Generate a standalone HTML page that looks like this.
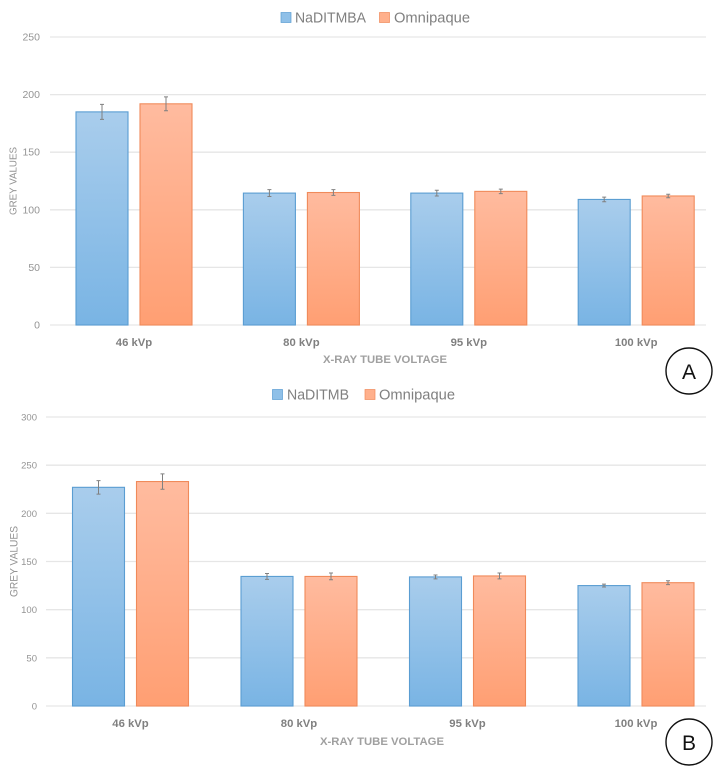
<!DOCTYPE html>
<html>
<head>
<meta charset="utf-8">
<style>
html,body{margin:0;padding:0;background:#fff;}
body{width:719px;height:770px;overflow:hidden;}
svg{display:block;font-family:"Liberation Sans",sans-serif;filter:blur(0.35px);}
</style>
</head>
<body>
<svg id="chart" width="719" height="770" viewBox="0 0 719 770" xmlns="http://www.w3.org/2000/svg">
<defs>
<linearGradient id="blueFill" x1="0" y1="0" x2="0" y2="1"><stop offset="0" stop-color="#a9cdec"/><stop offset="1" stop-color="#79b4e4"/></linearGradient>
<linearGradient id="orangeFill" x1="0" y1="0" x2="0" y2="1"><stop offset="0" stop-color="#ffbb9f"/><stop offset="1" stop-color="#ff9f73"/></linearGradient>
</defs>
</svg>
<script>
const categories = ['46 kVp', '80 kVp', '95 kVp', '100 kVp'];
const ticksA = [0, 50, 100, 150, 200, 250];
const naditmbaValues = [185, 114.5, 114.5, 109];
const naditmbaErrors = [6.5, 3, 2.5, 2];
const omnipaqueAValues = [192, 115, 116, 112];
const omnipaqueAErrors = [6, 2.5, 2, 1.5];
const ticksB = [0, 50, 100, 150, 200, 250, 300];
const naditmbValues = [227, 134.5, 134, 125];
const naditmbErrors = [7, 3, 2, 1.5];
const omnipaqueBValues = [233, 134.5, 135, 128];
const omnipaqueBErrors = [8, 3.5, 3, 2];

const svg = document.getElementById('chart');
const NS = 'http://www.w3.org/2000/svg';
function make(tag, attrs, text) {
  const el = document.createElementNS(NS, tag);
  for (const k in attrs) el.setAttribute(k, attrs[k]);
  if (text !== undefined) el.textContent = text;
  svg.appendChild(el);
  return el;
}
function drawPanel(p) {
  const yScale = v => p.y0 - (v / p.yMax) * (p.y0 - p.yTop);
  const xCenter = i => p.x0Center + i * p.groupStep;
  p.ticks.forEach(t => {
    const line = make('line', {x1: p.left, x2: 706, y1: yScale(t), y2: yScale(t), stroke: '#e6e6e6', 'stroke-width': 1.3});
    
    
    const label = make('text', {x: p.tickRight, y: yScale(t) + 3.5, 'text-anchor': 'end', 'font-size': p.tickSize, fill: '#949494'}, t);
    
    
  });
  p.series.forEach((s, si) => {
    s.values.forEach((v, i) => {
      const x = xCenter(i) + (si === 0 ? -58 : 6);
      const y = yScale(v);
      const bar = make('rect', {x: x, y: y, width: 52, height: p.y0 - y, fill: 'url(#' + s.fill + ')', stroke: s.stroke, 'stroke-width': 1.1});
      
      
      const cx = x + 26;
      const e = s.errors[i];
      const top = yScale(v + e), bot = yScale(v - e);
      const err = make('path', {d: 'M' + cx + ' ' + top + 'V' + bot + 'M' + (cx - 2) + ' ' + top + 'H' + (cx + 2) + 'M' + (cx - 2) + ' ' + bot + 'H' + (cx + 2), stroke: '#808080', 'stroke-width': 1, fill: 'none'});
      
      
    });
  });
  categories.forEach((c, i) => {
    const label = make('text', {x: xCenter(i), y: p.catY, 'text-anchor': 'middle', 'font-size': 11.3, 'font-weight': 'bold', fill: '#808080'}, c);
    
    
  });
  const xt = make('text', {x: p.xTitleX, y: p.xTitleY, 'text-anchor': 'middle', 'font-size': 11, 'font-weight': 'bold', fill: '#a0a0a0', textLength: 124, lengthAdjust: 'spacingAndGlyphs'}, 'X-RAY TUBE VOLTAGE');
  
  
  const cy = (p.y0 + p.yTop) / 2;
  const yt = make('text', {x: 0, y: 0, transform: 'translate(' + p.yTitleX + ' ' + cy + ') rotate(-90)', 'text-anchor': 'middle', 'font-size': p.yTitleSize, fill: '#949494', textLength: p.yTitleLen, lengthAdjust: 'spacingAndGlyphs'}, 'GREY VALUES');
  
  
  p.legend.forEach((l, i) => {
    const sw = make('rect', {x: l.x, y: p.legendY - 5, width: 10, height: 10, fill: p.series[i].legendFill, stroke: p.series[i].stroke, 'stroke-width': 0.7});
    
    
    const tx = make('text', {x: l.textX, y: p.legendY + 5, 'font-size': 14.5, fill: '#808080', textLength: l.len, lengthAdjust: 'spacingAndGlyphs'}, l.text);
    
    
  });
  const circle = make('circle', {cx: p.badgeX, cy: p.badgeY, r: 23, fill: '#fff', stroke: '#111', 'stroke-width': 1.4});
  
  
  const letter = make('text', {x: p.badgeX, y: p.badgeY + 8, 'text-anchor': 'middle', 'font-size': 21, fill: '#111'}, p.id.toUpperCase());
  
  
}
drawPanel({
  id: 'a', left: 50, y0: 325, yTop: 37, yMax: 250, ticks: ticksA, tickSize: 10.5, tickRight: 40,
  x0Center: 134, groupStep: 167.4, catY: 346, xTitleX: 385, xTitleY: 363,
  yTitleX: 16.5, yTitleSize: 10.5, yTitleLen: 68,
  legendY: 17.5, badgeX: 689, badgeY: 371,
  legend: [{x: 281, textX: 295, len: 71, text: 'NaDITMBA'}, {x: 379.5, textX: 394, len: 76, text: 'Omnipaque'}],
  series: [
    {key: 'naditmba', values: naditmbaValues, errors: naditmbaErrors, fill: 'blueFill', stroke: '#5a9dd2', legendFill: '#8fc0e8'},
    {key: 'omnipaque', values: omnipaqueAValues, errors: omnipaqueAErrors, fill: 'orangeFill', stroke: '#f08a5a', legendFill: '#ffb08c'}
  ]
});
drawPanel({
  id: 'b', left: 46, y0: 706, yTop: 417, yMax: 300, ticks: ticksB, tickSize: 9.5, tickRight: 37,
  x0Center: 130.5, groupStep: 168.5, catY: 727, xTitleX: 382, xTitleY: 745,
  yTitleX: 17.5, yTitleSize: 11, yTitleLen: 71,
  legendY: 394.5, badgeX: 689, badgeY: 742,
  legend: [{x: 272.5, textX: 287, len: 62, text: 'NaDITMB'}, {x: 365, textX: 379, len: 76, text: 'Omnipaque'}],
  series: [
    {key: 'naditmb', values: naditmbValues, errors: naditmbErrors, fill: 'blueFill', stroke: '#5a9dd2', legendFill: '#8fc0e8'},
    {key: 'omnipaque', values: omnipaqueBValues, errors: omnipaqueBErrors, fill: 'orangeFill', stroke: '#f08a5a', legendFill: '#ffb08c'}
  ]
});
</script>
</body>
</html>
